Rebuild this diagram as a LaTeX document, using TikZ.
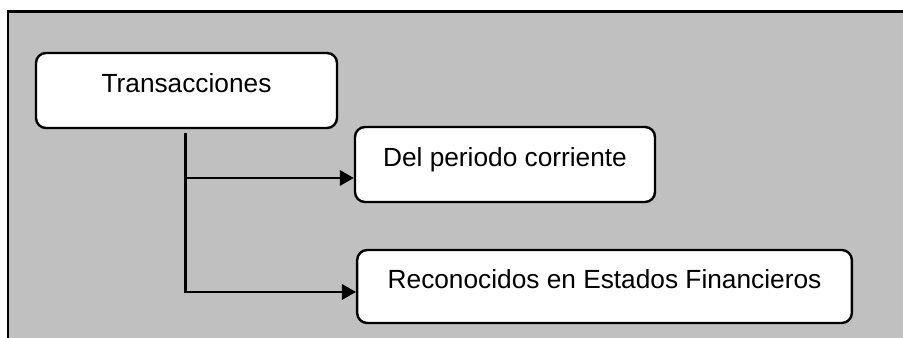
\documentclass[tikz,border=0pt]{standalone}
\usepackage{fontspec}
\setmainfont{Liberation Sans}
\usetikzlibrary{arrows.meta}
\definecolor{panel}{HTML}{C0C0C0}
\begin{document}
\begin{tikzpicture}[x=0.75pt,y=-0.75pt,
 caja/.style={draw,line width=1.8pt,fill=white,rounded corners=7.5pt,inner sep=0pt,
  text height=29.5pt,text depth=26.75pt,font=\fontsize{19.7}{23}\selectfont},
 flecha/.style={line width=1.8pt,-{Triangle[length=10.5pt,width=11.5pt]}}]
\clip (0,0) rectangle (903,338);
\draw[fill=panel,line width=2pt] (8,11.3) rectangle (940,380);
\node[caja,minimum width=225.75pt] (trans) at (186.5,90.5) {Transacciones};
\node[caja,minimum width=225pt] (corr) at (505,164.5) {Del periodo corriente};
\node[caja,minimum width=371pt,text height=28.7pt,text depth=26pt] (recon) at (604.5,286.5) {Reconocidos en Estados Financieros};
\coordinate (tronco) at ([xshift=-0.75pt,yshift=-3pt]trans.south);
\draw[flecha] (tronco) |- ([yshift=-10.1pt]corr.west);
\draw[flecha] (tronco) |- ([yshift=-4.1pt]recon.west);
\end{tikzpicture}
\end{document}
